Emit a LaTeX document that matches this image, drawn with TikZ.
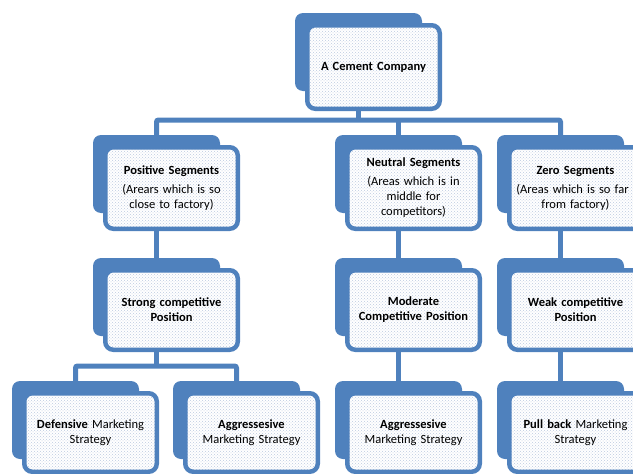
\documentclass[tikz,border=0pt]{standalone}
\usepackage{fontspec}
\setmainfont{Carlito}
\usetikzlibrary{patterns,backgrounds}
\definecolor{bblue}{HTML}{4F81BD}
\definecolor{dotc}{HTML}{BCCAE0}
\tikzset{
 backbox/.style={fill=bblue, rounded corners=8pt, minimum width=127pt, minimum height=78pt, inner sep=0pt},
 frontbox/.style={draw=bblue, line width=4.5pt, rounded corners=8pt, preaction={fill=white}, pattern=crosshatch dots, pattern color=dotc, minimum width=132.5pt, inner sep=0pt, align=center, text width=132pt, font=\fontsize{12.5}{15}\selectfont},
 conn/.style={draw=bblue, line width=5pt, rounded corners=2pt},
}
\newcommand\Blk[5]{%
 \node[backbox] (#1b) at ({#2+63.5},{#3+39}) {};
 \node[frontbox, minimum height={#4-4.5}] (#1) at ({#2+78.5},{#3+10+#4/2}) {#5};
}
\begin{document}
\begin{tikzpicture}[x=1pt,y=-1pt]
\useasboundingbox (0,0) rectangle (633,474);
\clip (0,0) rectangle (633,474);
\Blk{t}{295}{13}{88}{\textbf{A Cement Company}}
\Blk{p}{93}{135}{86}{\textbf{Positive Segments}\\[4pt](Arears which is so\\close to factory)}
\Blk{n}{335}{135}{86}{\textbf{Neutral Segments}\\[4pt](Areas which is in\\middle for\\competitors)}
\Blk{z}{497}{135}{86}{\textbf{Zero Segments}\\[4pt]\hspace*{-6pt}(Areas which is so far\\from factory)}
\Blk{s}{93}{258}{84}{\textbf{Strong competitive}\\\textbf{Position}}
\Blk{m}{335}{258}{84}{\textbf{Moderate}\\\textbf{Competitive Position}}
\Blk{w}{497}{258}{84}{\textbf{Weak competitive}\\\textbf{Position}}
\Blk{d}{12}{381}{83}{\textbf{Defensive} Marketing\\Strategy}
\Blk{a}{173}{381}{83}{\textbf{Aggressesive}\\Marketing Strategy}
\Blk{aa}{335}{381}{83}{\textbf{Aggressesive}\\Marketing Strategy}
\Blk{q}{497}{381}{83}{\textbf{Pull back} Marketing\\Strategy}
\coordinate (j0) at (358,120);
\coordinate (j1) at (156,366);
\begin{scope}[on background layer]
\draw[conn] (tb.center |- t.south) -- (tb.center |- j0);
\draw[conn] (pb.north) -- (pb.north |- j0) -- (zb.north |- j0) -- (zb.north);
\draw[conn] (nb.north) -- (nb.north |- j0);
\draw[conn] (pb.center |- p.south) -- (sb.north);
\draw[conn] (nb.center |- n.south) -- (mb.north);
\draw[conn] (zb.center |- z.south) -- (wb.north);
\draw[conn] (sb.center |- s.south) -- (sb.center |- j1);
\draw[conn] (db.north) -- (db.north |- j1) -- (ab.north |- j1) -- (ab.north);
\draw[conn] (mb.center |- m.south) -- (aab.north);
\draw[conn] (wb.center |- w.south) -- (qb.north);
\end{scope}
\end{tikzpicture}
\end{document}
